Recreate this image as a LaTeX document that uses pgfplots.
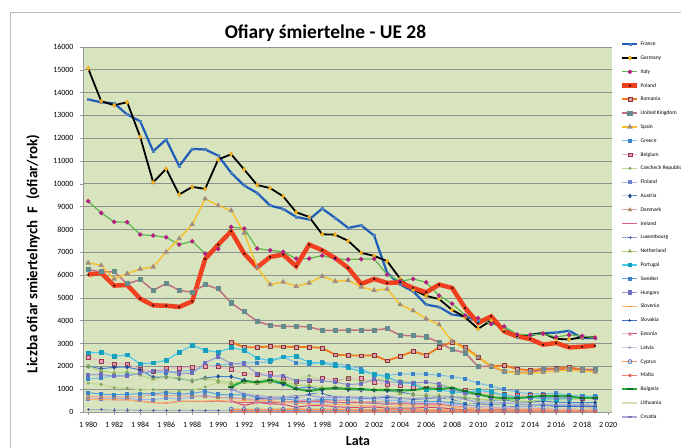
\documentclass[border=0pt]{standalone}
\usepackage{pgfplots}
\pgfplotsset{compat=1.18}
\usepackage{fontspec}
\setmainfont{Carlito}
\definecolor{bgg}{RGB}{215,228,190}
\definecolor{gridc}{RGB}{145,145,145}
\begin{document}
\begin{tikzpicture}
\path[use as bounding box] (0bp,0bp) rectangle (681bp,448bp);
\draw[gray!55, line width=1bp] (10bp,0bp) -- (10bp,435bp) -- (681bp,435bp);
\node[font=\bfseries\fontsize{19.5}{22}\selectfont, anchor=base, inner sep=0pt] at (325.5bp,409.5bp) {Ofiary śmiertelne - UE 28};
\node[font=\bfseries\fontsize{15}{17}\selectfont, rotate=90, inner sep=0pt] at (33bp,194bp) {Liczba ofiar smiertelnych\ \ F\ \ (ofiar/rok)};
\node[font=\bfseries\fontsize{14}{16}\selectfont, anchor=base, inner sep=0pt] at (358bp,2.5bp) {Lata};
\begin{axis}[
  at={(83bp,36bp)}, anchor=south west,
  width=529bp, height=365bp, scale only axis,
  xmin=1979.6, xmax=2020.3, ymin=0, ymax=16000,
  scaled y ticks=false,
  axis background/.style={fill=bgg},
  axis x line*=bottom, axis y line*=left,
  axis line style={draw=gray!80, line width=0.8bp, -},
  ymajorgrids, grid style={draw=gridc, line width=0.8bp},
  xtick={1980,1982,...,2020},
  xticklabels={1\hspace{2bp}980,1\hspace{2bp}982,1\hspace{2bp}984,1\hspace{2bp}986,1\hspace{2bp}988,1\hspace{2bp}990,1\hspace{2bp}992,1\hspace{2bp}994,1\hspace{2bp}996,1\hspace{2bp}998,2\hspace{2bp}000,2\hspace{2bp}002,2\hspace{2bp}004,2\hspace{2bp}006,2\hspace{2bp}008,2\hspace{2bp}010,2\hspace{2bp}012,2\hspace{2bp}014,2\hspace{2bp}016,2\hspace{2bp}018,2\hspace{2bp}020},
  minor x tick num=1,
  ytick={0,1000,...,16000},
  tick align=outside, major tick length=3bp, minor tick length=3bp,
  tick style={draw=gray!80, line width=0.6bp},
  ticklabel style={font=\fontsize{8}{9}\selectfont},
  xticklabel style={yshift=-3.5bp},
  yticklabel style={xshift=-3bp},
  /pgf/number format/1000 sep={}, /pgf/number format/assume math mode=true,
  legend cell align=left,
  legend image code/.code={\draw[mark repeat=2,mark phase=2] plot coordinates {(0bp,0bp) (7.5bp,0bp) (15bp,0bp)};},
  legend style={at={(axis description cs:1,1)}, anchor=north west, xshift=8bp, yshift=6bp,
    draw=none, fill=none, inner xsep=0pt, inner ysep=0pt, row sep=7.8bp, column sep=0.5bp,
    font=\fontsize{5.5}{6}\selectfont,
    nodes={inner sep=0.5bp, text height=4bp, text depth=1bp}},
]
% France
\addplot[color={rgb,255:red,31;green,94;blue,184}, line width=2.2bp, mark=square*, mark size=1bp, mark options={color={rgb,255:red,79;green,129;blue,189}, line width=0.5bp}] coordinates {(1980,13697)(1981,13580)(1982,13530)(1983,13040)(1984,12746)(1985,11430)(1986,11943)(1987,10774)(1988,11535)(1989,11506)(1990,11241)(1991,10482)(1992,9925)(1993,9605)(1994,9048)(1995,8904)(1996,8553)(1997,8434)(1998,8917)(1999,8509)(2000,8070)(2001,8184)(2002,7732)(2003,6096)(2004,5583)(2005,5289)(2006,4706)(2007,4605)(2008,4268)(2009,4193)(2010,3992)(2011,3963)(2012,3653)(2013,3268)(2014,3384)(2015,3461)(2016,3477)(2017,3560)(2018,3248)(2019,3244)};
\addlegendentry{France}
% Germany
\addplot[color=black, line width=1.8bp, mark=diamond*, mark size=2.2bp, mark options={fill={rgb,255:red,247;green,180;blue,30}, draw={rgb,255:red,230;green,160;blue,20}, line width=0.4bp}] coordinates {(1980,15057)(1981,13623)(1982,13447)(1983,13579)(1984,12061)(1985,10070)(1986,10658)(1987,9531)(1988,9868)(1989,9781)(1990,11066)(1991,11300)(1992,10631)(1993,9949)(1994,9814)(1995,9454)(1996,8758)(1997,8549)(1998,7792)(1999,7772)(2000,7503)(2001,6977)(2002,6842)(2003,6613)(2004,5842)(2005,5361)(2006,5091)(2007,4949)(2008,4477)(2009,4152)(2010,3648)(2011,4009)(2012,3600)(2013,3339)(2014,3377)(2015,3459)(2016,3206)(2017,3180)(2018,3275)(2019,3280)};
\addlegendentry{Germany}
% Italy
\addplot[color={rgb,255:red,92;green,184;blue,76}, line width=1.2bp, mark=*, mark size=1.6bp, mark options={color={rgb,255:red,180;green,30;blue,130}}] coordinates {(1980,9240)(1981,8728)(1982,8333)(1983,8318)(1984,7776)(1985,7732)(1986,7658)(1987,7338)(1988,7483)(1989,6943)(1990,7148)(1991,8114)(1992,8040)(1993,7163)(1994,7088)(1995,7017)(1996,6724)(1997,6724)(1998,6855)(1999,6713)(2000,6685)(2001,6700)(2002,6713)(2003,6022)(2004,5730)(2005,5833)(2006,5684)(2007,5101)(2008,4750)(2009,4237)(2010,4114)(2011,3860)(2012,3753)(2013,3401)(2014,3381)(2015,3428)(2016,3283)(2017,3378)(2018,3334)(2019,3250)};
\addlegendentry{Italy}
% Poland
\addplot[color={rgb,255:red,240;green,64;blue,32}, line width=4.5bp, mark=*, mark size=0.8bp, mark options={color=black, line width=0.3bp}] coordinates {(1980,6022)(1981,6096)(1982,5540)(1983,5570)(1984,4969)(1985,4675)(1986,4660)(1987,4605)(1988,4850)(1989,6710)(1990,7338)(1991,7921)(1992,6943)(1993,6342)(1994,6798)(1995,6899)(1996,6390)(1997,7338)(1998,7090)(1999,6750)(2000,6315)(2001,5614)(2002,5833)(2003,5658)(2004,5684)(2005,5437)(2006,5246)(2007,5583)(2008,5437)(2009,4560)(2010,3903)(2011,4193)(2012,3535)(2013,3316)(2014,3200)(2015,2952)(2016,3026)(2017,2831)(2018,2862)(2019,2909)};
\addlegendentry{Poland}
% Romania
\addplot[color={rgb,255:red,242;green,120;blue,32}, line width=1.8bp, mark=square*, mark size=1.8bp, mark options={fill={rgb,255:red,215;green,160;blue,160}, draw={rgb,255:red,140;green,50;blue,60}, line width=0.5bp}] coordinates {(1991,3070)(1992,2836)(1993,2836)(1994,2880)(1995,2860)(1996,2850)(1997,2850)(1998,2807)(1999,2514)(2000,2485)(2001,2470)(2002,2485)(2003,2250)(2004,2440)(2005,2660)(2006,2485)(2007,2836)(2008,3070)(2009,2836)(2010,2412)(2011,2000)(2012,2045)(2013,1886)(2014,1825)(2015,1900)(2016,1913)(2017,1951)(2018,1867)(2019,1864)};
\addlegendentry{Romania}
% United Kingdom
\addplot[color={rgb,255:red,192;green,112;blue,128}, line width=1.5bp, mark=square*, mark size=1.8bp, mark options={color={rgb,255:red,100;green,140;blue,140}}] coordinates {(1980,6242)(1981,6140)(1982,6150)(1983,5614)(1984,5803)(1985,5335)(1986,5628)(1987,5335)(1988,5246)(1989,5583)(1990,5395)(1991,4780)(1992,4386)(1993,3975)(1994,3800)(1995,3757)(1996,3757)(1997,3728)(1998,3580)(1999,3580)(2000,3590)(2001,3590)(2002,3590)(2003,3655)(2004,3362)(2005,3340)(2006,3289)(2007,3055)(2008,2734)(2009,2588)(2010,2000)(2011,2000)(2012,1781)(2013,1740)(2014,1740)(2015,1855)(2016,1860)(2017,1856)(2018,1839)(2019,1850)};
\addlegendentry{United Kingdom}
% Spain
\addplot[color={rgb,255:red,250;green,190;blue,40}, line width=1.4bp, mark=triangle*, mark size=1.8bp, mark options={color={rgb,255:red,160;green,140;blue,130}}] coordinates {(1980,6535)(1981,6430)(1982,5833)(1983,6066)(1984,6272)(1985,6360)(1986,7017)(1987,7600)(1988,8215)(1989,9346)(1990,9048)(1991,8829)(1992,7850)(1993,6345)(1994,5583)(1995,5700)(1996,5510)(1997,5658)(1998,5950)(1999,5730)(2000,5775)(2001,5483)(2002,5335)(2003,5395)(2004,4706)(2005,4443)(2006,4092)(2007,3829)(2008,3097)(2009,2763)(2010,2395)(2011,2031)(2012,1800)(2013,1710)(2014,1710)(2015,1740)(2016,1810)(2017,1830)(2018,1806)(2019,1755)};
\addlegendentry{Spain}
% Greece
\addplot[color={rgb,255:red,120;green,190;blue,235}, line width=1bp, mark=square*, mark size=1.5bp, mark options={color={rgb,255:red,60;green,130;blue,200}}] coordinates {(1980,1446)(1981,1500)(1982,1580)(1983,1620)(1984,1700)(1985,1760)(1986,1720)(1987,1780)(1988,1820)(1989,1980)(1990,2050)(1991,2112)(1992,2158)(1993,2160)(1994,2195)(1995,2411)(1996,2157)(1997,2105)(1998,2182)(1999,2116)(2000,2037)(2001,1895)(2002,1634)(2003,1605)(2004,1670)(2005,1658)(2006,1657)(2007,1612)(2008,1553)(2009,1456)(2010,1258)(2011,1141)(2012,988)(2013,879)(2014,795)(2015,793)(2016,824)(2017,731)(2018,700)(2019,688)};
\addlegendentry{Greece}
% Belgium
\addplot[color={rgb,255:red,240;green,180;blue,200}, line width=1bp, mark=square*, mark size=1.8bp, mark options={fill={rgb,255:red,230;green,160;blue,180}, draw={rgb,255:red,150;green,60;blue,80}, line width=0.5bp}] coordinates {(1980,2412)(1981,2222)(1982,2105)(1983,2105)(1984,1886)(1985,1783)(1986,1930)(1987,1930)(1988,1959)(1989,2000)(1990,1976)(1991,1873)(1992,1671)(1993,1660)(1994,1692)(1995,1449)(1996,1356)(1997,1364)(1998,1500)(1999,1397)(2000,1470)(2001,1486)(2002,1306)(2003,1214)(2004,1162)(2005,1089)(2006,1069)(2007,1067)(2008,944)(2009,943)(2010,841)(2011,862)(2012,770)(2013,724)(2014,727)(2015,732)(2016,637)(2017,615)(2018,604)(2019,646)};
\addlegendentry{Belgium}
% Czech
\addplot[color={rgb,255:red,190;green,215;blue,140}, line width=1bp, mark=*, mark size=1bp, mark options={color={rgb,255:red,130;green,170;blue,100}}] coordinates {(1980,1261)(1981,1210)(1982,1066)(1983,1050)(1984,970)(1985,980)(1986,900)(1987,920)(1988,950)(1989,1100)(1990,1291)(1991,1194)(1992,1331)(1993,1355)(1994,1473)(1995,1384)(1996,1386)(1997,1597)(1998,1360)(1999,1322)(2000,1486)(2001,1334)(2002,1431)(2003,1447)(2004,1382)(2005,1286)(2006,1063)(2007,1221)(2008,1076)(2009,901)(2010,802)(2011,773)(2012,742)(2013,654)(2014,688)(2015,738)(2016,611)(2017,577)(2018,656)(2019,618)};
\addlegendentry{Czechech Republic}
% Finland
\addplot[color={rgb,255:red,160;green,180;blue,230}, line width=1bp, mark=square*, mark size=1.4bp, mark options={color={rgb,255:red,110;green,130;blue,200}}] coordinates {(1980,551)(1981,555)(1982,592)(1983,604)(1984,541)(1985,541)(1986,612)(1987,563)(1988,653)(1989,734)(1990,649)(1991,632)(1992,601)(1993,484)(1994,480)(1995,441)(1996,404)(1997,438)(1998,400)(1999,431)(2000,396)(2001,433)(2002,415)(2003,379)(2004,375)(2005,379)(2006,336)(2007,380)(2008,344)(2009,279)(2010,272)(2011,292)(2012,255)(2013,258)(2014,229)(2015,270)(2016,258)(2017,238)(2018,239)(2019,211)};
\addlegendentry{Finland}
% Austria
\addplot[color={rgb,255:red,70;green,130;blue,210}, line width=1bp, mark=diamond*, mark size=1.6bp, mark options={color={rgb,255:red,30;green,70;blue,140}}] coordinates {(1980,2003)(1981,1898)(1982,1958)(1983,1970)(1984,1842)(1985,1524)(1986,1534)(1987,1465)(1988,1366)(1989,1495)(1990,1558)(1991,1551)(1992,1403)(1993,1283)(1994,1338)(1995,1210)(1996,1027)(1997,1105)(1998,963)(1999,1079)(2000,976)(2001,958)(2002,956)(2003,931)(2004,878)(2005,768)(2006,730)(2007,691)(2008,679)(2009,633)(2010,552)(2011,523)(2012,531)(2013,455)(2014,430)(2015,479)(2016,432)(2017,414)(2018,409)(2019,416)};
\addlegendentry{Austria}
% Denmark
\addplot[color={rgb,255:red,230;green,160;blue,160}, line width=1bp, mark=triangle*, mark size=1.6bp, mark options={color={rgb,255:red,170;green,130;blue,100}}] coordinates {(1980,690)(1981,662)(1982,658)(1983,665)(1984,665)(1985,772)(1986,723)(1987,696)(1988,713)(1989,670)(1990,634)(1991,606)(1992,577)(1993,559)(1994,546)(1995,582)(1996,514)(1997,489)(1998,499)(1999,514)(2000,498)(2001,431)(2002,463)(2003,432)(2004,369)(2005,331)(2006,306)(2007,406)(2008,406)(2009,303)(2010,255)(2011,220)(2012,167)(2013,191)(2014,182)(2015,178)(2016,211)(2017,175)(2018,171)(2019,199)};
\addlegendentry{Denmark}
% Ireland
\addplot[color={rgb,255:red,220;green,100;blue,130}, line width=1bp, mark=none] coordinates {(1980,564)(1981,572)(1982,533)(1983,535)(1984,465)(1985,410)(1986,387)(1987,462)(1988,463)(1989,460)(1990,478)(1991,445)(1992,415)(1993,431)(1994,404)(1995,437)(1996,453)(1997,472)(1998,458)(1999,413)(2000,415)(2001,411)(2002,376)(2003,335)(2004,374)(2005,396)(2006,365)(2007,338)(2008,279)(2009,238)(2010,212)(2011,186)(2012,162)(2013,188)(2014,193)(2015,162)(2016,186)(2017,156)(2018,146)(2019,140)};
\addlegendentry{Ireland}
% Luxembourg
\addplot[color={rgb,255:red,140;green,160;blue,210}, line width=0.8bp, mark=+, mark size=1.6bp, mark options={color={rgb,255:red,80;green,100;blue,170}}] coordinates {(1980,98)(1981,97)(1982,86)(1983,87)(1984,79)(1985,79)(1986,73)(1987,76)(1988,75)(1989,67)(1990,71)(1991,83)(1992,69)(1993,76)(1994,74)(1995,70)(1996,71)(1997,60)(1998,57)(1999,58)(2000,76)(2001,70)(2002,62)(2003,53)(2004,49)(2005,46)(2006,43)(2007,43)(2008,35)(2009,48)(2010,32)(2011,33)(2012,34)(2013,45)(2014,35)(2015,36)(2016,32)(2017,25)(2018,36)(2019,22)};
\addlegendentry{Luxembourg}
% Netherland
\addplot[color={rgb,255:red,180;green,210;blue,120}, line width=1bp, mark=triangle*, mark size=1.6bp, mark options={color={rgb,255:red,140;green,170;blue,90}}] coordinates {(1980,1997)(1981,1807)(1982,1710)(1983,1756)(1984,1615)(1985,1438)(1986,1527)(1987,1485)(1988,1366)(1989,1456)(1990,1376)(1991,1281)(1992,1285)(1993,1252)(1994,1298)(1995,1334)(1996,1180)(1997,1163)(1998,1066)(1999,1090)(2000,1082)(2001,993)(2002,987)(2003,1028)(2004,804)(2005,750)(2006,730)(2007,709)(2008,677)(2009,644)(2010,537)(2011,546)(2012,562)(2013,476)(2014,477)(2015,531)(2016,533)(2017,535)(2018,603)(2019,581)};
\addlegendentry{Netherland}
% Portugal
\addplot[color={rgb,255:red,80;green,200;blue,235}, line width=1.2bp, mark=square*, mark size=1.8bp, mark options={color={rgb,255:red,20;green,160;blue,190}}] coordinates {(1980,2588)(1981,2617)(1982,2442)(1983,2500)(1984,2105)(1985,2149)(1986,2266)(1987,2617)(1988,2924)(1989,2705)(1990,2617)(1991,2822)(1992,2705)(1993,2368)(1994,2250)(1995,2412)(1996,2440)(1997,2175)(1998,2150)(1999,2031)(2000,1930)(2001,1783)(2002,1655)(2003,1542)(2004,1294)(2005,1247)(2006,969)(2007,974)(2008,885)(2009,840)(2010,937)(2011,891)(2012,718)(2013,637)(2014,638)(2015,593)(2016,563)(2017,602)(2018,675)(2019,626)};
\addlegendentry{Portugal}
% Sweden
\addplot[color={rgb,255:red,90;green,160;blue,220}, line width=1bp, mark=square*, mark size=1.5bp, mark options={color={rgb,255:red,60;green,130;blue,200}}] coordinates {(1980,848)(1981,784)(1982,758)(1983,779)(1984,801)(1985,808)(1986,844)(1987,787)(1988,813)(1989,904)(1990,772)(1991,745)(1992,759)(1993,632)(1994,589)(1995,572)(1996,537)(1997,541)(1998,531)(1999,580)(2000,591)(2001,583)(2002,560)(2003,529)(2004,480)(2005,440)(2006,445)(2007,471)(2008,397)(2009,358)(2010,266)(2011,319)(2012,285)(2013,260)(2014,270)(2015,259)(2016,270)(2017,252)(2018,324)(2019,221)};
\addlegendentry{Sweden}
% Hungary
\addplot[color={rgb,255:red,150;green,150;blue,210}, line width=1bp, mark=square*, mark size=1.6bp, mark options={color={rgb,255:red,110;green,110;blue,190}}] coordinates {(1980,1630)(1981,1640)(1982,1570)(1983,1580)(1984,1700)(1985,1800)(1986,1800)(1987,1690)(1988,1700)(1989,2150)(1990,2432)(1991,2120)(1992,2101)(1993,1678)(1994,1562)(1995,1589)(1996,1370)(1997,1391)(1998,1371)(1999,1306)(2000,1200)(2001,1239)(2002,1429)(2003,1326)(2004,1296)(2005,1278)(2006,1303)(2007,1232)(2008,996)(2009,822)(2010,740)(2011,638)(2012,605)(2013,591)(2014,626)(2015,644)(2016,607)(2017,625)(2018,633)(2019,602)};
\addlegendentry{Hungary}
% Slovenia
\addplot[color={rgb,255:red,250;green,180;blue,110}, line width=1bp, mark=-, mark size=1.6bp, mark options={color={rgb,255:red,240;green,140;blue,70}, line width=1bp}] coordinates {(1980,558)(1981,540)(1982,545)(1983,530)(1984,470)(1985,420)(1986,400)(1987,480)(1988,470)(1989,480)(1990,517)(1991,462)(1992,493)(1993,493)(1994,505)(1995,415)(1996,389)(1997,357)(1998,309)(1999,334)(2000,313)(2001,278)(2002,269)(2003,242)(2004,274)(2005,258)(2006,262)(2007,293)(2008,214)(2009,171)(2010,138)(2011,141)(2012,130)(2013,125)(2014,108)(2015,120)(2016,130)(2017,104)(2018,91)(2019,102)};
\addlegendentry{Slovenia}
% Slovakia
\addplot[color={rgb,255:red,60;green,110;blue,200}, line width=1bp, mark=+, mark size=1.6bp, mark options={color={rgb,255:red,40;green,80;blue,160}}] coordinates {(1993,584)(1994,633)(1995,660)(1996,616)(1997,788)(1998,819)(1999,647)(2000,628)(2001,614)(2002,610)(2003,645)(2004,603)(2005,560)(2006,579)(2007,627)(2008,558)(2009,347)(2010,353)(2011,324)(2012,295)(2013,223)(2014,259)(2015,274)(2016,242)(2017,250)(2018,229)(2019,245)};
\addlegendentry{Slovakia}
% Estonia
\addplot[color={rgb,255:red,210;green,70;blue,110}, line width=1bp, mark=*, mark size=1.4bp, mark options={color={rgb,255:red,220;green,130;blue,160}}] coordinates {(1991,490)(1992,287)(1993,421)(1994,364)(1995,332)(1996,213)(1997,280)(1998,284)(1999,232)(2000,204)(2001,199)(2002,223)(2003,164)(2004,170)(2005,169)(2006,204)(2007,196)(2008,132)(2009,98)(2010,79)(2011,101)(2012,87)(2013,81)(2014,78)(2015,67)(2016,71)(2017,48)(2018,67)(2019,52)};
\addlegendentry{Estonia}
% Latvia
\addplot[color={rgb,255:red,200;green,200;blue,235}, line width=1bp, mark=+, mark size=1.6bp, mark options={color={rgb,255:red,160;green,160;blue,210}}] coordinates {(1991,923)(1992,800)(1993,700)(1994,600)(1995,650)(1996,550)(1997,525)(1998,627)(1999,604)(2000,588)(2001,558)(2002,559)(2003,532)(2004,516)(2005,442)(2006,407)(2007,419)(2008,316)(2009,254)(2010,218)(2011,179)(2012,177)(2013,179)(2014,212)(2015,188)(2016,158)(2017,136)(2018,148)(2019,132)};
\addlegendentry{Latvia}
% Cyprus
\addplot[color={rgb,255:red,245;green,150;blue,90}, line width=1.5bp, mark=o, mark size=2bp, mark options={color={rgb,255:red,70;green,120;blue,200}, line width=0.8bp}] coordinates {(1991,120)(1992,110)(1993,100)(1994,110)(1995,118)(1996,128)(1997,115)(1998,111)(1999,113)(2000,111)(2001,98)(2002,94)(2003,97)(2004,117)(2005,102)(2006,86)(2007,89)(2008,82)(2009,71)(2010,60)(2011,71)(2012,51)(2013,44)(2014,45)(2015,57)(2016,46)(2017,53)(2018,49)(2019,52)};
\addlegendentry{Cyprus}
% Malta
\addplot[color={rgb,255:red,240;green,130;blue,110}, line width=1.2bp, mark=star, mark size=1.6bp, mark options={color={rgb,255:red,220;green,100;blue,80}}] coordinates {(1991,15)(1992,12)(1993,14)(1994,18)(1995,14)(1996,18)(1997,16)(1998,15)(1999,4)(2000,15)(2001,16)(2002,16)(2003,16)(2004,13)(2005,17)(2006,11)(2007,14)(2008,15)(2009,21)(2010,13)(2011,17)(2012,11)(2013,18)(2014,10)(2015,11)(2016,22)(2017,19)(2018,18)(2019,16)};
\addlegendentry{Malta}
% Bulgaria
\addplot[color={rgb,255:red,40;green,170;blue,60}, line width=2bp, mark=-, mark size=3bp, mark options={color={rgb,255:red,20;green,110;blue,40}, line width=2bp}] coordinates {(1991,1110)(1992,1360)(1993,1297)(1994,1390)(1995,1264)(1996,1014)(1997,915)(1998,1003)(1999,1047)(2000,1012)(2001,1011)(2002,959)(2003,960)(2004,943)(2005,957)(2006,1043)(2007,1006)(2008,1061)(2009,901)(2010,776)(2011,657)(2012,601)(2013,601)(2014,661)(2015,708)(2016,708)(2017,682)(2018,611)(2019,628)};
\addlegendentry{Bulgaria}
% Lithuania
\addplot[color={rgb,255:red,210;green,225;blue,180}, line width=1.2bp, mark=none] coordinates {(1991,1100)(1992,900)(1993,800)(1994,700)(1995,670)(1996,667)(1997,725)(1998,829)(1999,748)(2000,641)(2001,706)(2002,697)(2003,709)(2004,752)(2005,773)(2006,760)(2007,740)(2008,499)(2009,370)(2010,299)(2011,296)(2012,301)(2013,258)(2014,267)(2015,242)(2016,192)(2017,192)(2018,170)(2019,185)};
\addlegendentry{Lithuania}
% Croatia
\addplot[color={rgb,255:red,170;green,170;blue,210}, line width=1.5bp, mark=-, mark size=1.6bp, mark options={color={rgb,255:red,120;green,120;blue,180}}] coordinates {(1991,1000)(1992,800)(1993,700)(1994,650)(1995,650)(1996,720)(1997,720)(1998,646)(1999,662)(2000,655)(2001,647)(2002,627)(2003,701)(2004,608)(2005,597)(2006,614)(2007,619)(2008,664)(2009,548)(2010,426)(2011,418)(2012,393)(2013,368)(2014,308)(2015,348)(2016,307)(2017,331)(2018,317)(2019,297)};
\addlegendentry{Croatia}
\end{axis}
\end{tikzpicture}
\end{document}
